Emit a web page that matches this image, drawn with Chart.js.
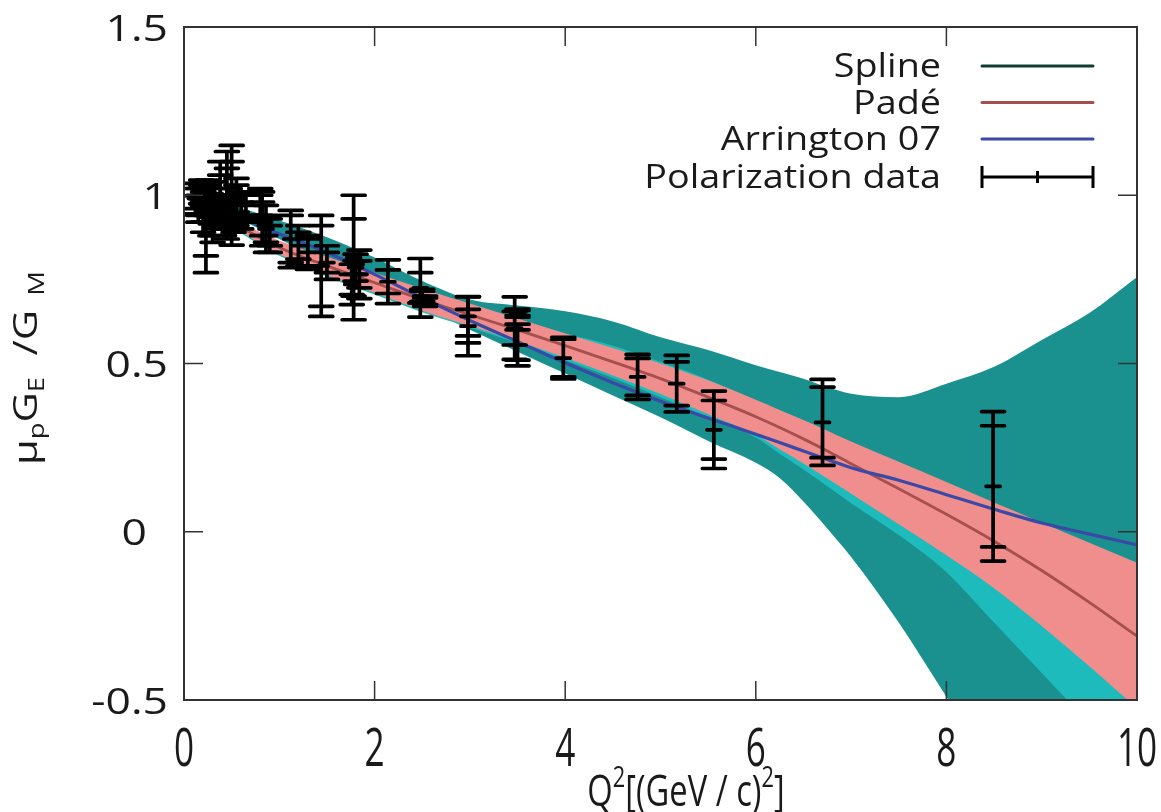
<!DOCTYPE html>
<html><head><meta charset="utf-8">
<script src="https://cdn.jsdelivr.net/npm/chart.js@4.4.1/dist/chart.umd.min.js"></script>
<style>html,body{margin:0;padding:0;background:#fff;overflow:hidden}</style>
</head><body>
<canvas id="c" width="1161" height="812"></canvas>
<script>
// ---- data ----
const gridQ2 = [0,0.5,1,1.5,2,2.5,3,3.5,4,4.5,5,5.5,6,6.25,6.5,6.75,7,7.5,8,8.5,9,9.5,10];
const splineOuterUpper = [1.0,0.97,0.925,0.875,0.815,0.745,0.69,0.672,0.655,0.625,0.578,0.54,0.495,0.475,0.455,0.43,0.41,0.40,0.44,0.49,0.57,0.65,0.757];
const splineOuterLower = [1.0,0.94,0.87,0.80,0.735,0.67,0.60,0.535,0.47,0.405,0.34,0.27,0.205,0.16,0.09,0.01,-0.075,-0.27,-0.49,-0.70,-0.92,-1.15,-1.4];
const splineInnerUpper = [1.002,0.93,0.86,0.812,0.765,0.718,0.675,0.632,0.59,0.553,0.505,0.452,0.388,0.356,0.325,0.294,0.262,0.20,0.14,0.08,0.02,-0.04,-0.10];
const splineInnerLower = [0.998,0.905,0.82,0.758,0.705,0.652,0.607,0.56,0.51,0.457,0.40,0.34,0.28,0.232,0.185,0.135,0.085,-0.01,-0.12,-0.27,-0.42,-0.57,-0.72];
const splineCurve = [1.0,0.918,0.84,0.785,0.735,0.685,0.641,0.596,0.55,0.505,0.454,0.398,0.34,0.296,0.258,0.218,0.178,0.10,0.015,-0.09,-0.2,-0.31,-0.42];
const padeUpper = [1.003,0.932,0.865,0.817,0.77,0.723,0.678,0.634,0.589,0.546,0.50,0.45,0.392,0.362,0.332,0.30,0.268,0.208,0.148,0.087,0.027,-0.033,-0.092];
const padeLower = [0.997,0.908,0.825,0.763,0.71,0.657,0.612,0.566,0.517,0.464,0.409,0.349,0.288,0.245,0.203,0.158,0.113,0.022,-0.07,-0.168,-0.28,-0.40,-0.525];
const padeCurve = [1.0,0.92,0.845,0.79,0.74,0.69,0.645,0.60,0.553,0.505,0.455,0.40,0.342,0.31,0.276,0.24,0.202,0.128,0.052,-0.028,-0.115,-0.21,-0.31];
const arringtonCurve = [1.0,0.945,0.885,0.83,0.765,0.695,0.628,0.565,0.502,0.443,0.388,0.338,0.29,0.265,0.24,0.215,0.19,0.153,0.11,0.067,0.026,-0.007,-0.039];

const polQ2 =      [0.12,0.15,0.18,0.2,0.23,0.25,0.28,0.3,0.32,0.35,0.38,0.4,0.42,0.45,0.48,0.5,0.52,0.55,0.6,0.65,0.8,0.82,0.86,0.9,1.12,1.2,1.3,1.44,1.5,1.76,1.78,1.8,1.84,2.14,2.48,2.5,2.53,2.98,2.98,3.47,3.5,3.5,3.98,4.76,5.17,5.56,6.70,8.49];
const polRatio =   [0.99,0.97,1.01,0.95,0.88,1.0,0.96,0.92,0.99,0.95,1.0,0.97,0.93,1.0,0.96,1.0,0.94,0.98,0.95,0.97,0.97,0.93,0.90,0.88,0.87,0.85,0.83,0.79,0.80,0.735,0.815,0.785,0.765,0.743,0.725,0.70,0.685,0.611,0.64,0.605,0.65,0.555,0.516,0.46,0.44,0.303,0.325,0.135];
const polStatErr = [0.03,0.03,0.02,0.03,0.06,0.03,0.025,0.04,0.03,0.02,0.06,0.02,0.03,0.08,0.04,0.1,0.03,0.05,0.03,0.03,0.03,0.05,0.04,0.03,0.07,0.04,0.04,0.12,0.03,0.03,0.115,0.02,0.04,0.035,0.045,0.015,0.01,0.05,0.058,0.05,0.008,0.045,0.056,0.055,0.065,0.087,0.105,0.18];
const polTotErr =  [0.045,0.05,0.035,0.06,0.11,0.045,0.045,0.06,0.05,0.04,0.1,0.03,0.05,0.13,0.06,0.148,0.05,0.07,0.05,0.04,0.05,0.08,0.07,0.05,0.085,0.06,0.05,0.15,0.05,0.06,0.185,0.04,0.072,0.065,0.087,0.02,0.015,0.088,0.058,0.093,0.012,0.062,0.062,0.067,0.084,0.115,0.128,0.222];

const xTickValues = [0,2,4,6,8,10];
const xTickLabels = ['0','2','4','6','8','10'];
const yTickValues = [-0.5,0,0.5,1,1.5];
const yTickLabels = ['-0.5','0','0.5','1','1.5'];
const legendLabels = ['Spline','Padé','Arrington 07','Polarization data'];

// ---- colours ----
const C_OUTER = '#1a918f', C_INNER = '#1dbbbb', C_PADEBAND = '#f08e8e';
const C_SPLINE = '#0f3d33', C_PADE = '#a5504e', C_ARR = '#3a48a6';
const TXT = '#1a1a1a';

const pts = arr => gridQ2.map((x,i)=>({x, y: arr[i]}));
const FONT = '"Open Sans", "Noto Sans", sans-serif';

const datasets = [
  {label:'outerU', data: pts(splineOuterUpper), fill: {target: 1}, backgroundColor: C_OUTER, borderWidth:0, pointRadius:0, order: 20},
  {label:'outerL', data: pts(splineOuterLower), fill:false, borderWidth:0, pointRadius:0, order: 20},
  {label:'innerU', data: pts(splineInnerUpper), fill: {target: 3}, backgroundColor: C_INNER, borderWidth:0, pointRadius:0, order: 19},
  {label:'innerL', data: pts(splineInnerLower), fill:false, borderWidth:0, pointRadius:0, order: 19},
  {label:'Spline', data: pts(splineCurve), fill:false, borderColor: C_SPLINE, borderWidth:2.5, pointRadius:0, order: 18},
  {label:'padeU', data: pts(padeUpper), fill: {target: 6}, backgroundColor: C_PADEBAND, borderWidth:0, pointRadius:0, order: 17},
  {label:'padeL', data: pts(padeLower), fill:false, borderWidth:0, pointRadius:0, order: 17},
  {label:'Padé', data: pts(padeCurve), fill:false, borderColor: C_PADE, borderWidth:2.8, pointRadius:0, order: 16},
  {label:'Arrington 07', data: pts(arringtonCurve), fill:false, borderColor: C_ARR, borderWidth:3.2, pointRadius:0, order: 15},
  {label:'Polarization data', type:'scatter', data: polQ2.map((x,i)=>({x, y: polRatio[i]})), pointRadius:0, showLine:false, order: 1}
];

function drawRuns(ctx, runs, x0, y0, sx) {
  ctx.save(); ctx.translate(x0, y0); ctx.scale(sx, 1); ctx.textAlign = 'left';
  let x = 0;
  runs.forEach(p => { ctx.font = p[1] + 'px ' + FONT; ctx.fillText(p[0], x, p[2]); x += ctx.measureText(p[0]).width; });
  ctx.restore();
}
function runsWidth(ctx, runs) {
  let w = 0; runs.forEach(p => { ctx.font = p[1] + 'px ' + FONT; w += ctx.measureText(p[0]).width; }); return w;
}

const frameAndText = {
  id: 'frameAndText',
  afterDatasetsDraw(chart) {
    const ctx = chart.ctx, xs = chart.scales.x, ys = chart.scales.y, a = chart.chartArea;
    ctx.save();
    ctx.beginPath(); ctx.rect(a.left, a.top, a.right-a.left, a.bottom-a.top); ctx.clip();
    ctx.strokeStyle = '#000'; ctx.lineCap = 'round'; ctx.lineWidth = 3.7;
    for (let i=0;i<polQ2.length;i++){
      const x = xs.getPixelForValue(polQ2[i]);
      const yc = ys.getPixelForValue(polRatio[i]);
      const yt = ys.getPixelForValue(polRatio[i]+polTotErr[i]);
      const yb = ys.getPixelForValue(polRatio[i]-polTotErr[i]);
      const st = ys.getPixelForValue(polRatio[i]+polStatErr[i]);
      const sb = ys.getPixelForValue(polRatio[i]-polStatErr[i]);
      ctx.beginPath(); ctx.moveTo(x,yt); ctx.lineTo(x,yb);
      for (const y of [yt,yb,st,sb]) { ctx.moveTo(x-11.5,y); ctx.lineTo(x+11.5,y); }
      ctx.moveTo(x-7,yc); ctx.lineTo(x+7,yc);
      ctx.stroke();
    }
    ctx.restore();
  },
  afterDraw(chart) {
    const ctx = chart.ctx, xs = chart.scales.x, ys = chart.scales.y, a = chart.chartArea;
    ctx.save();
    ctx.strokeStyle = '#333'; ctx.lineWidth = 2;
    ctx.strokeRect(a.left, a.top, a.right-a.left, a.bottom-a.top);
    ctx.lineWidth = 1.5; ctx.beginPath();
    xTickValues.forEach(v => { const x = xs.getPixelForValue(v);
      ctx.moveTo(x, a.bottom); ctx.lineTo(x, a.bottom-19);
      ctx.moveTo(x, a.top); ctx.lineTo(x, a.top+19); });
    yTickValues.forEach(v => { const y = ys.getPixelForValue(v);
      ctx.moveTo(a.left, y); ctx.lineTo(a.left+19, y);
      ctx.moveTo(a.right, y); ctx.lineTo(a.right-19, y); });
    ctx.stroke();
    ctx.fillStyle = TXT;
    ctx.textBaseline = 'alphabetic';
    yTickValues.forEach((v,i) => {
      const runs = [[yTickLabels[i], 37, 0]];
      const w = runsWidth(ctx, runs) * 1.2;
      const right = (v === 0) ? a.left - 37 : a.left - 16;
      drawRuns(ctx, runs, right - w, ys.getPixelForValue(v) + 13.5, 1.2);
    });
    ctx.textAlign = 'center';
    xTickValues.forEach((v,i) => {
      ctx.save(); ctx.translate(xs.getPixelForValue(v), 766); ctx.scale(0.95, 1.45);
      ctx.font = '37px ' + FONT; ctx.fillText(xTickLabels[i], 0, 0); ctx.restore(); });
    ctx.save(); ctx.translate(0, 806); ctx.scale(1, 1.45);
    const xr = [['Q',30,0],['2',20,-13],['[(GeV / c)',30,0],['2',20,-13],[']',30,0]];
    const xw = runsWidth(ctx, xr) * 1.09;
    drawRuns(ctx, xr, 686 - xw/2, 0, 1.09);
    ctx.restore();
    ctx.save(); ctx.translate(37, 465); ctx.rotate(-Math.PI/2);
    const yr = [['μ',32,0],['p',21,7],['G',32,0],['E',21,7],['  /G',32,0],['  M',21,7]];
    drawRuns(ctx, yr, 0, 0, 1.3);
    ctx.restore();
    const lx0 = 982, lx1 = 1093, base = [77,113.5,150,188];
    legendLabels.forEach((t,i) => {
      const runs = [[t, 32, 0]]; const w = runsWidth(ctx, runs) * 1.18;
      drawRuns(ctx, runs, 941 - w, base[i], 1.18);
    });
    ctx.lineWidth = 3; ctx.lineCap = 'round';
    [C_SPLINE, C_PADE, C_ARR].forEach((c,i) => { ctx.strokeStyle = c; ctx.beginPath(); ctx.moveTo(lx0, base[i]-11); ctx.lineTo(lx1, base[i]-11); ctx.stroke(); });
    ctx.strokeStyle = '#000'; ctx.lineCap = 'butt'; ctx.beginPath();
    const ly = base[3]-11;
    ctx.moveTo(lx0, ly); ctx.lineTo(lx1, ly);
    ctx.moveTo(lx0, ly-11); ctx.lineTo(lx0, ly+11);
    ctx.moveTo(lx1, ly-11); ctx.lineTo(lx1, ly+11);
    ctx.moveTo((lx0+lx1)/2, ly-6); ctx.lineTo((lx0+lx1)/2, ly+6);
    ctx.stroke();
    ctx.restore();
  }
};

new Chart(document.getElementById('c'), {
  type: 'line',
  data: { datasets },
  options: {
    responsive: false, animation: false,
    layout: { padding: { left: 184, right: 24, top: 27, bottom: 112 } },
    elements: { line: { tension: 0.35, cubicInterpolationMode: 'monotone' } },
    plugins: { legend: { display: false }, tooltip: { enabled: false },
      filler: { drawTime: 'beforeDatasetDraw' } },
    scales: {
      x: { type: 'linear', min: 0, max: 10, display: false },
      y: { type: 'linear', min: -0.5, max: 1.5, display: false }
    }
  },
  plugins: [frameAndText]
});
</script>
</body></html>
